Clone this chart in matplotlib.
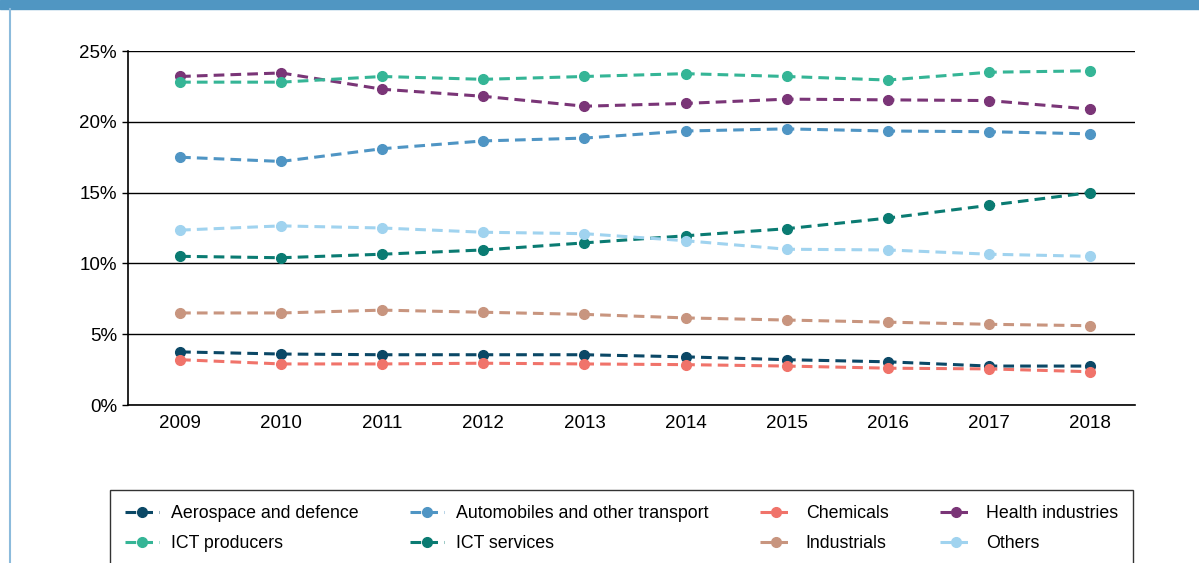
import matplotlib.pyplot as plt
from matplotlib.patches import Rectangle
from matplotlib.lines import Line2D
from matplotlib.ticker import FuncFormatter

plt.rcParams['font.family'] = ['Liberation Sans', 'DejaVu Sans']

years = [2009, 2010, 2011, 2012, 2013, 2014, 2015, 2016, 2017, 2018]

aerospace = [3.75, 3.6, 3.55, 3.55, 3.55, 3.4, 3.2, 3.05, 2.75, 2.75]
automobiles = [17.5, 17.2, 18.1, 18.65, 18.85, 19.35, 19.5, 19.35, 19.3, 19.15]
chemicals = [3.2, 2.9, 2.9, 2.95, 2.9, 2.85, 2.75, 2.6, 2.55, 2.35]
health = [23.2, 23.45, 22.3, 21.8, 21.1, 21.3, 21.6, 21.55, 21.5, 20.9]
ict_producers = [22.8, 22.8, 23.2, 23.0, 23.2, 23.4, 23.2, 22.95, 23.5, 23.6]
ict_services = [10.5, 10.4, 10.65, 10.95, 11.45, 11.95, 12.45, 13.2, 14.1, 15.0]
industrials = [6.5, 6.5, 6.7, 6.55, 6.4, 6.15, 6.0, 5.85, 5.7, 5.6]
others = [12.35, 12.65, 12.5, 12.2, 12.1, 11.6, 11.0, 10.95, 10.65, 10.5]

series = [
    ('Aerospace and defence', aerospace, '#0b4866'),
    ('Automobiles and other transport', automobiles, '#4f95c4'),
    ('Chemicals', chemicals, '#f0736a'),
    ('Health industries', health, '#7a3577'),
    ('ICT producers', ict_producers, '#35b596'),
    ('ICT services', ict_services, '#0a7b72'),
    ('Industrials', industrials, '#c8957f'),
    ('Others', others, '#a0d3ef'),
]

fig = plt.figure(figsize=(11.99, 5.63), dpi=100)
ax = fig.add_axes([128 / 1199, 1 - 405 / 563, 1007 / 1199, 354 / 563])

# frame decorations: blue band on top, thin line on left
fig.patches.append(Rectangle((0, 1 - 9 / 563), 1, 9 / 563, transform=fig.transFigure,
                             color='#5096c2', zorder=0))
fig.lines.append(Line2D([10 / 1199, 10 / 1199], [0, 1 - 9 / 563], transform=fig.transFigure,
                        color='#8cbbdc', lw=1.5))

order = [6, 2, 0, 7, 5, 1, 3, 4]
handles = {}
for i in order:
    name, vals, col = series[i]
    h, = ax.plot(years, vals, color=col, lw=2.2, ls=(0, (3.5, 2.0)), marker='o',
                 markersize=7, label=name, zorder=3 + i * 0.1)
    handles[i] = h

ax.set_xlim(2008.485, 2018.445)
ax.set_ylim(0, 25)
ax.set_yticks([0, 5, 10, 15, 20, 25])
ax.yaxis.set_major_formatter(FuncFormatter(lambda v, p: f'{v:.0f}%'))
ax.set_xticks(years)
ax.tick_params(axis='x', length=0, labelsize=13.5, pad=7)
ax.tick_params(axis='y', length=4, labelsize=13.5, pad=4, width=1)
ax.grid(axis='y', color='black', lw=1)
ax.set_axisbelow(True)
for s in ['top', 'right']:
    ax.spines[s].set_visible(False)
for s in ['left', 'bottom']:
    ax.spines[s].set_color('black')
    ax.spines[s].set_linewidth(1.2)

# legend is filled column by column, so interleave to get row order
leg_order = [0, 4, 1, 5, 2, 6, 3, 7]
leg = fig.legend([handles[i] for i in leg_order], [series[i][0] for i in leg_order],
                 loc='upper left', bbox_to_anchor=(110 / 1199, 1 - 490 / 563, 1023 / 1199, 0),
                 ncol=4, mode='expand', fontsize=12.8, frameon=True, fancybox=False,
                 edgecolor='black', handlelength=1.9, handletextpad=0.7,
                 borderpad=0.85, labelspacing=0.75, borderaxespad=0)
leg.get_frame().set_linewidth(1)

fig.savefig('out.png', dpi=100)
